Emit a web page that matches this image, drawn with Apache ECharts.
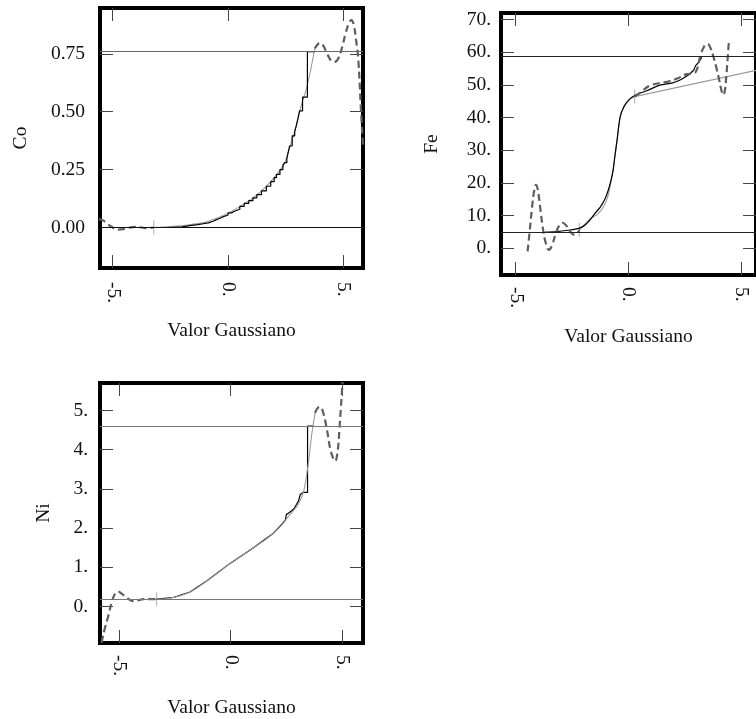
<!DOCTYPE html>
<html>
<head>
<meta charset="utf-8">
<script src="https://cdn.jsdelivr.net/npm/echarts@6/dist/echarts.min.js"></script>
<style>
html, body { margin: 0; padding: 0; background: #fff; }
#chart { width: 756px; height: 719px; }
</style>
</head>
<body>
<div id="chart"></div>
<script>
// tick values
var xTicks = [-5, 0, 5];
var coYTicks = [0, 0.25, 0.5, 0.75];
var feYTicks = [0, 10, 20, 30, 40, 50, 60, 70];
var niYTicks = [0, 1, 2, 3, 4, 5];

// Co
var coRefLines = [0, 0.755];
var coFitX = [-3.22, -2.5, -1.66, -1.0, -0.5, 0, 0.5, 1.08, 1.66, 2.1, 2.46, 2.67, 2.89, 3.18, 3.4, 3.58, 3.76];
var coFitY = [0, 0.004, 0.012, 0.022, 0.04, 0.062, 0.09, 0.128, 0.178, 0.228, 0.28, 0.345, 0.415, 0.53, 0.6, 0.68, 0.773];
var coDataX = [-3.22, -2.6, -2.0, -1.66, -1.3, -1.08, -0.85, -0.65, -0.5, -0.35, -0.2, 0, 0.15, 0.3, 0.51, 0.7, 0.9, 1.08, 1.25, 1.45, 1.66, 1.85, 2.0, 2.1, 2.25, 2.38, 2.46, 2.55, 2.62, 2.67, 2.78, 2.89, 2.96, 3.03, 3.1, 3.23, 3.44, 3.76];
var coDataY = [0, 0.003, 0.008, 0.012, 0.016, 0.02, 0.027, 0.034, 0.04, 0.047, 0.054, 0.063, 0.071, 0.079, 0.091, 0.104, 0.116, 0.128, 0.142, 0.158, 0.178, 0.198, 0.215, 0.229, 0.25, 0.27, 0.28, 0.3, 0.33, 0.352, 0.396, 0.415, 0.44, 0.47, 0.504, 0.563, 0.76, 0.76];
var coLeftX = [-5.6, -5.45, -5.3, -5.1, -4.9, -4.75, -4.55, -4.3, -4.05, -3.8, -3.55, -3.22];
var coLeftY = [0.035, 0.032, 0.022, 0.006, -0.006, -0.009, -0.007, -0.001, 0.003, 0.001, -0.003, 0];
var coRightX = [3.76, 3.88, 3.97, 4.1, 4.3, 4.47, 4.62, 4.78, 4.95, 5.1, 5.25, 5.35, 5.45, 5.55, 5.65, 5.75, 5.85];
var coRightY = [0.773, 0.79, 0.797, 0.79, 0.75, 0.72, 0.715, 0.73, 0.78, 0.84, 0.885, 0.896, 0.875, 0.81, 0.72, 0.53, 0.35];
var coMarkX = [-3.22];
var coMarkY = [0];

// Fe
var feRefLines = [4.9, 58.8];
var feDataX = [-3.7, -3.2, -2.67, -2.3, -2.11, -1.9, -1.77, -1.6, -1.48, -1.25, -1.05, -0.9, -0.76, -0.67, -0.6, -0.5, -0.36, -0.19, 0.03, 0.32, 0.82, 1.4, 1.97, 2.3, 2.54, 2.75, 2.9, 3.0, 3.09, 3.26];
var feDataY = [4.9, 5.1, 5.5, 5.9, 6.3, 7.2, 8.1, 9.5, 10.7, 12.5, 14.8, 17.5, 21, 24, 28, 33, 40.3, 43.3, 45.4, 46.9, 48.2, 49.9, 50.6, 51.5, 52.5, 53.5, 54.5, 56.0, 56.6, 58.4];
var feFitX = [-2.17, -1.97, -1.67, -1.53, -1.39, -1.1, -0.9, -0.76, -0.62, -0.5, -0.36, -0.19, 0.03, 0.28];
var feFitY = [5.6, 7.1, 9.1, 9.8, 10.2, 12.7, 16, 20.5, 26.5, 32.8, 40, 43.5, 45.5, 46.4];
var feTrendX = [0.28, 5.7];
var feTrendY = [46.4, 54.5];
var feLeftX = [-4.47, -4.38, -4.28, -4.18, -4.1, -4.02, -3.92, -3.8, -3.66, -3.52, -3.38, -3.22, -3.06, -2.91, -2.76, -2.6, -2.47, -2.37, -2.27, -2.17];
var feLeftY = [-1, 5, 12, 17.5, 19.4, 18, 13, 6.5, 1.5, -0.5, 1, 4.5, 7, 7.8, 7, 5.3, 4.3, 4.1, 4.6, 5.6];
var feRightX = [0.28, 0.6, 0.9, 1.34, 1.77, 2.2, 2.56, 2.92, 3.06, 3.15, 3.23, 3.35, 3.45, 3.53, 3.62, 3.78, 3.92, 4.04, 4.13, 4.21, 4.28, 4.35, 4.41, 4.47];
var feRightY = [46.4, 48, 49.6, 50.5, 51, 52, 53.2, 53.5, 55, 57.5, 59.6, 61.5, 62.4, 62.5, 61.8, 58.6, 55, 51.4, 48.5, 46.9, 48, 52.5, 58, 63.7];
var feMarkX = [-2.17, 0.28];
var feMarkY = [5.6, 46.4];

// Ni
var niRefLines = [0.185, 4.6];
var niFitX = [-3.33, -2.9, -2.58, -2.2, -1.83, -1.45, -1.08, -0.55, -0.03, 0.5, 1.02, 1.5, 1.92, 2.3, 2.59, 2.97, 3.12, 3.3, 3.49, 3.64, 3.79];
var niFitY = [0.19, 0.2, 0.23, 0.29, 0.37, 0.5, 0.65, 0.87, 1.1, 1.3, 1.5, 1.68, 1.87, 2.08, 2.3, 2.55, 2.7, 3.0, 3.67, 4.4, 4.94];
var niDataX = [-3.33, -2.58, -1.83, -1.08, -0.03, 1.02, 1.92, 2.3, 2.45, 2.5, 2.59, 2.75, 2.85, 2.97, 3.05, 3.12, 3.24, 3.45, 3.45, 3.72];
var niDataY = [0.19, 0.23, 0.37, 0.65, 1.1, 1.5, 1.87, 2.1, 2.2, 2.35, 2.38, 2.45, 2.5, 2.62, 2.7, 2.85, 2.91, 2.91, 4.6, 4.6];
var niLeftX = [-5.87, -5.8, -5.65, -5.5, -5.35, -5.2, -5.05, -4.9, -4.68, -4.5, -4.38, -4.15, -3.93, -3.6, -3.33];
var niLeftY = [-1.2, -0.93, -0.55, -0.25, 0.1, 0.32, 0.38, 0.33, 0.23, 0.16, 0.14, 0.16, 0.19, 0.19, 0.19];
var niRightX = [3.79, 3.9, 4.02, 4.15, 4.32, 4.5, 4.69, 4.8, 4.88, 4.95, 4.99, 5.04];
var niRightY = [4.94, 5.06, 5.09, 4.95, 4.51, 3.95, 3.71, 3.95, 4.51, 5.1, 5.44, 5.9];
var niMarkX = [-3.33];
var niMarkY = [0.19];

var FONT = 'Liberation Serif';
var chart = echarts.init(document.getElementById('chart'));

function pairs(xs, ys) {
    return xs.map(function (x, i) { return [x, ys[i]]; });
}

var panels = [
    { name: 'Co', grid: { left: 100, top: 8, width: 263, height: 260 },
      xr: [-5.55, 5.85], yr: [-0.175, 0.948], yTicks: coYTicks,
      yFmt: function (v) { return v.toFixed(2); },
      yMargin: 15, yNameGap: 69, xMargin: 14, xNameGap: 53,
      refLines: coRefLines, refColors: ['#111', '#666'], blackOnTop: true, dataStep: 'end',
      fit: pairs(coFitX, coFitY), data: pairs(coDataX, coDataY),
      dashed: [pairs(coLeftX, coLeftY), pairs(coRightX, coRightY)],
      marks: pairs(coMarkX, coMarkY), extra: [] },
    { name: 'Fe', grid: { left: 501, top: 13, width: 263, height: 262 },
      xr: [-5.65, 5.67], yr: [-8.2, 72], yTicks: feYTicks,
      yFmt: function (v) { return v + '.'; },
      yMargin: 10, yNameGap: 59, xMargin: 12, xNameGap: 52,
      refLines: feRefLines, refColors: ['#222', '#222'], blackOnTop: true, dataStep: false,
      fit: pairs(feFitX, feFitY), data: pairs(feDataX, feDataY),
      dashed: [pairs(feLeftX, feLeftY), pairs(feRightX, feRightY)],
      marks: pairs(feMarkX, feMarkY), extra: [pairs(feTrendX, feTrendY)] },
    { name: 'Ni', grid: { left: 100, top: 383, width: 263, height: 262 },
      xr: [-5.87, 5.94], yr: [-0.93, 5.7], yTicks: niYTicks,
      yFmt: function (v) { return v + '.'; },
      yMargin: 12, yNameGap: 46, xMargin: 12, xNameGap: 55,
      refLines: niRefLines, refColors: ['#777', '#777'], blackOnTop: false, dataStep: false,
      fit: pairs(niFitX, niFitY), data: pairs(niDataX, niDataY),
      dashed: [pairs(niLeftX, niLeftY), pairs(niRightX, niRightY)],
      marks: pairs(niMarkX, niMarkY), extra: [] }
];

var grids = [], xAxes = [], yAxes = [], series = [];
var textStyle = { fontFamily: FONT, fontSize: 19.5, color: '#111' };
var tickStyle = { color: '#444', width: 1 };
var noLine = { show: false, onZero: false };

panels.forEach(function (p, i) {
    var g = p.grid;
    grids.push({ left: g.left, top: g.top, width: g.width, height: g.height,
        show: true, borderColor: '#000', borderWidth: 4, backgroundColor: 'transparent' });

    xAxes.push({
        type: 'value', gridIndex: i, position: 'bottom', min: p.xr[0], max: p.xr[1],
        name: 'Valor Gaussiano', nameLocation: 'middle', nameGap: p.xNameGap, nameTextStyle: textStyle,
        axisLine: noLine, splitLine: { show: false },
        axisTick: { inside: true, length: 13, customValues: xTicks, lineStyle: tickStyle },
        axisLabel: { customValues: xTicks, rotate: -90, margin: p.xMargin,
            fontFamily: FONT, fontSize: 19.5, color: '#111',
            formatter: function (v) { return v.toFixed(0) + '.'; } }
    });
    xAxes.push({
        type: 'value', gridIndex: i, position: 'top', min: p.xr[0], max: p.xr[1],
        axisLine: noLine, splitLine: { show: false },
        axisTick: { inside: true, length: 13, customValues: xTicks, lineStyle: tickStyle },
        axisLabel: { show: false }
    });
    yAxes.push({
        type: 'value', gridIndex: i, position: 'left', min: p.yr[0], max: p.yr[1],
        name: p.name, nameLocation: 'middle', nameGap: p.yNameGap, nameTextStyle: textStyle,
        axisLine: noLine, splitLine: { show: false },
        axisTick: { inside: true, length: 13, customValues: p.yTicks, lineStyle: tickStyle },
        axisLabel: { customValues: p.yTicks, margin: p.yMargin,
            fontFamily: FONT, fontSize: 19.5, color: '#111', formatter: p.yFmt }
    });
    yAxes.push({
        type: 'value', gridIndex: i, position: 'right', min: p.yr[0], max: p.yr[1],
        axisLine: noLine, splitLine: { show: false },
        axisTick: { inside: true, length: 13, customValues: p.yTicks, lineStyle: tickStyle },
        axisLabel: { show: false }
    });

    var xi = i * 2, yi = i * 2;
    var base = { type: 'line', xAxisIndex: xi, yAxisIndex: yi, symbol: 'none',
        silent: true, animation: false, clip: true };

    // reference lines
    series.push(Object.assign({}, base, {
        data: [],
        markLine: { silent: true, symbol: ['none', 'none'], label: { show: false },
            animation: false,
            data: p.refLines.map(function (v, k) {
                return { yAxis: v, lineStyle: { color: p.refColors[k], width: 1, type: 'solid' } };
            }) }
    }));

    var fitS = Object.assign({}, base, { data: p.fit, smooth: 0.3,
        lineStyle: { color: '#9a9a9a', width: 1.1 } });
    var dataS = Object.assign({}, base, { data: p.data, step: p.dataStep,
        smooth: p.dataStep ? false : (p.name === 'Fe' ? 0.3 : false),
        lineStyle: { color: '#000', width: 1.2 } });
    if (p.blackOnTop) { series.push(fitS, dataS); } else { series.push(dataS, fitS); }

    p.extra.forEach(function (d) {
        series.push(Object.assign({}, base, { data: d, lineStyle: { color: '#9a9a9a', width: 1.1 } }));
    });

    p.dashed.forEach(function (d) {
        series.push(Object.assign({}, base, { data: d, smooth: 0.4,
            lineStyle: { color: '#5e5e5e', width: 2.2, type: [7, 4] } }));
    });

    series.push({ type: 'scatter', xAxisIndex: xi, yAxisIndex: yi, data: p.marks,
        symbol: 'rect', symbolSize: [1.2, 14], silent: true, animation: false,
        itemStyle: { color: '#aaa' } });
});

chart.setOption({
    animation: false,
    backgroundColor: '#fff',
    grid: grids,
    xAxis: xAxes,
    yAxis: yAxes,
    series: series
});
</script>
</body>
</html>
